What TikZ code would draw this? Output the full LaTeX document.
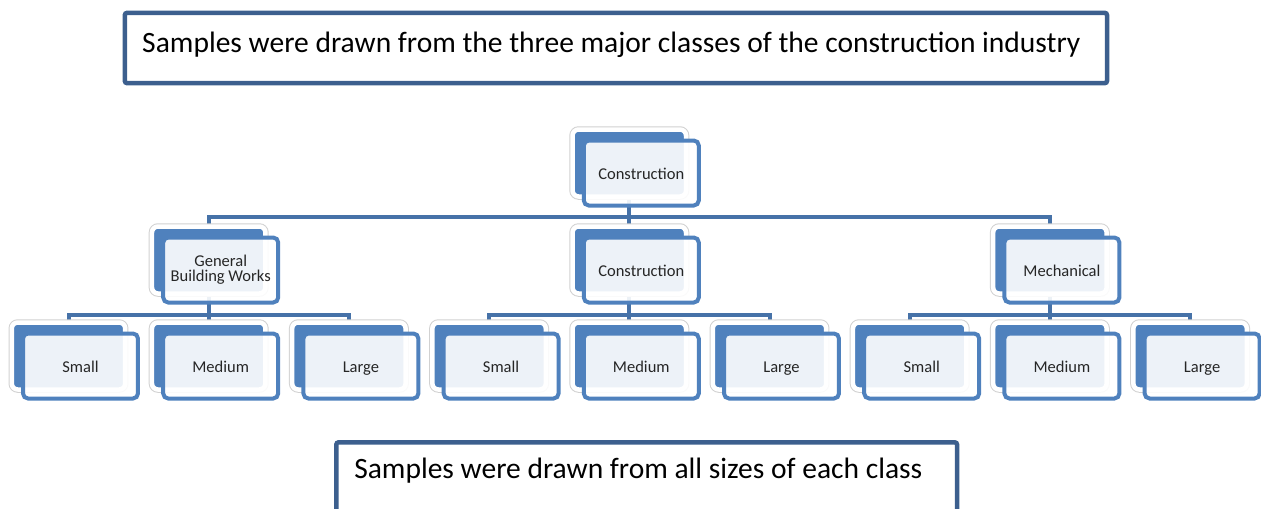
\documentclass[tikz,border=0pt]{standalone}
\usepackage{fontspec}
\setmainfont{Carlito}
\usetikzlibrary{backgrounds}

\definecolor{smblue}{HTML}{4F81BD}
\definecolor{linkblue}{HTML}{4672A8}
\definecolor{framebl}{HTML}{3C5F8E}
\definecolor{inktext}{HTML}{262626}

\tikzset{
  back/.style={rectangle, rounded corners=0.12cm, minimum width=2.27cm, minimum height=1.34cm,
    fill=smblue, draw=white, line width=0.09cm, preaction={draw=black!18, line width=0.13cm}},
  face/.style={rectangle, rounded corners=0.1cm, minimum width=2.3cm, minimum height=1.3cm,
    draw=smblue, line width=0.08cm, fill=white, fill opacity=0.9, text opacity=1, text=inktext,
    font=\fontsize{9.4}{8.6}\selectfont, align=center,
    execute at begin node={\rule[-2pt]{0pt}{11.3pt}}},
  link/.style={draw=linkblue, line width=0.08cm},
  banner/.style={rectangle, rounded corners=0.05cm, draw=framebl, line width=0.09cm,
    anchor=north west, align=flush left, inner xsep=0.35cm, font=\fontsize{16.8}{20}\selectfont}
}

\begin{document}
\begin{tikzpicture}[x=0.02cm, y=-0.02cm]
\useasboundingbox (0,0) rectangle (1261,508);

% captions
\node[banner, minimum width=19.65cm, minimum height=1.41cm, text width=18.95cm, text depth=0.23cm] (note1) at (122.5,10.5)
  {\mbox{Samples were drawn from the three major classes of the construction industry}};
\node[banner, minimum width=12.42cm, minimum height=1.42cm, text width=11.7cm, text depth=0.39cm] (note2) at (334,440)
  {\mbox{Samples were drawn from all sizes of each class}};

% top
\node[back] (conb) at (629.3,163) {};
\node[face] (con) at ([shift={(12,10)}]conb) {Construction};

% classes
\node[back] (genb) at (208.7,260) {};
\node[face] (gen) at ([shift={(12,10)}]genb) {General\\Building Works};
\node[back] (civb) at (629.3,260) {};
\node[face] (civ) at ([shift={(12,10)}]civb) {Construction};
\node[back] (mecb) at (1049.9,260) {};
\node[face] (mec) at ([shift={(12,10)}]mecb) {Mechanical};

% sizes
\node[back] (s1b) at (68.5,356) {};
\node[face] (s1) at ([shift={(12,10)}]s1b) {Small};
\node[back] (m1b) at (208.7,356) {};
\node[face] (m1) at ([shift={(12,10)}]m1b) {Medium};
\node[back] (l1b) at (348.9,356) {};
\node[face] (l1) at ([shift={(12,10)}]l1b) {Large};
\node[back] (s2b) at (489.1,356) {};
\node[face] (s2) at ([shift={(12,10)}]s2b) {Small};
\node[back] (m2b) at (629.3,356) {};
\node[face] (m2) at ([shift={(12,10)}]m2b) {Medium};
\node[back] (l2b) at (769.5,356) {};
\node[face] (l2) at ([shift={(12,10)}]l2b) {Large};
\node[back] (s3b) at (909.7,356) {};
\node[face] (s3) at ([shift={(12,10)}]s3b) {Small};
\node[back] (m3b) at (1049.9,356) {};
\node[face] (m3) at ([shift={(12,10)}]m3b) {Medium};
\node[back] (l3b) at (1190.1,356) {};
\node[face] (l3) at ([shift={(12,10)}]l3b) {Large};

\coordinate (bar0) at (0,217);
\coordinate (bar1) at (0,315);

\begin{scope}[on background layer]
\draw[link] (conb) -- (conb |- bar0) -| (genb);
\draw[link] (conb) -- (civb);
\draw[link] (conb) -- (conb |- bar0) -| (mecb);

\draw[link] (genb) -- (genb |- bar1) -| (s1b);
\draw[link] (genb) -- (m1b);
\draw[link] (genb) -- (genb |- bar1) -| (l1b);
\draw[link] (civb) -- (civb |- bar1) -| (s2b);
\draw[link] (civb) -- (m2b);
\draw[link] (civb) -- (civb |- bar1) -| (l2b);
\draw[link] (mecb) -- (mecb |- bar1) -| (s3b);
\draw[link] (mecb) -- (m3b);
\draw[link] (mecb) -- (mecb |- bar1) -| (l3b);
\end{scope}
\end{tikzpicture}
\end{document}
